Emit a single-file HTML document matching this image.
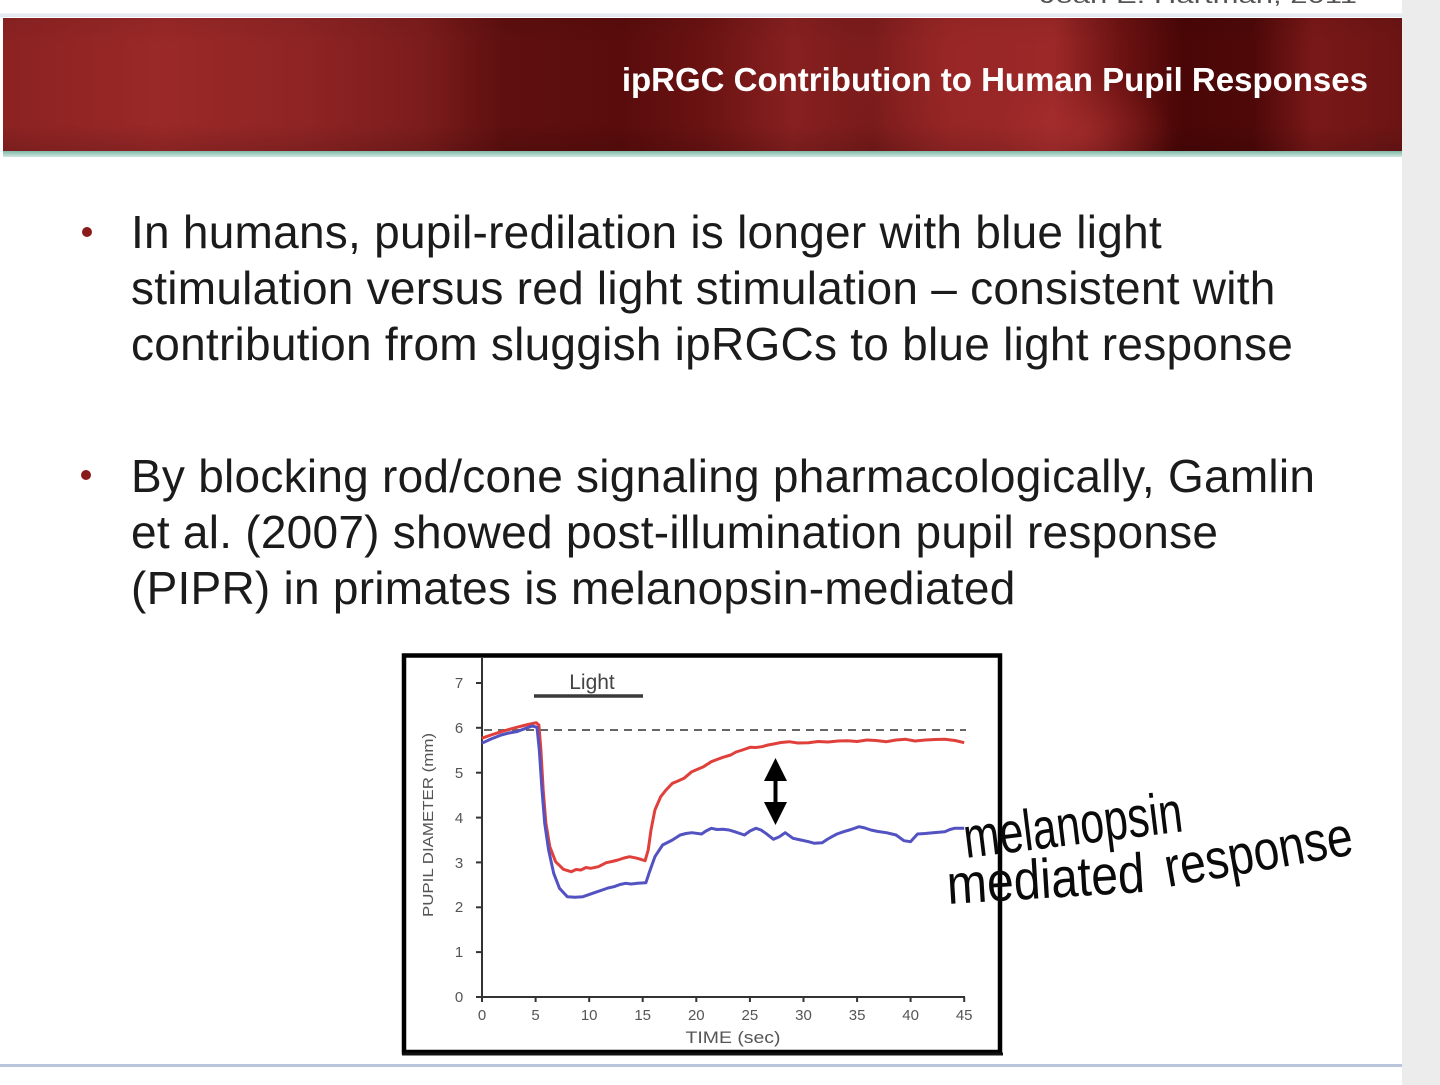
<!DOCTYPE html>
<html>
<head>
<meta charset="utf-8">
<style>
  html,body{margin:0;padding:0;}
  body{width:1440px;height:1085px;position:relative;overflow:hidden;background:#ffffff;font-family:"Liberation Sans",Arial,sans-serif;}
  .rightband{position:absolute;left:1402px;top:0;width:38px;height:1085px;background:#ececec;}
  .topline{position:absolute;left:0;top:13px;width:1402px;height:4px;background:linear-gradient(#eef1f7,#dfe4ee);}
  .header{position:absolute;left:3px;top:18px;width:1399px;height:133px;
    background:
      radial-gradient(ellipse 90px 60px at 1080px 115px, rgba(175,50,50,0.55), rgba(175,50,50,0) 100%),
      radial-gradient(ellipse 120px 140px at 960px 40px, rgba(160,40,40,0.5), rgba(160,40,40,0) 100%),
      linear-gradient(to bottom, rgba(0,0,0,0.05) 0%, rgba(0,0,0,0) 20%, rgba(0,0,0,0) 80%, rgba(0,0,0,0.12) 100%),
      linear-gradient(to right,#8c2222 0px,#9a2828 160px,#8f2424 300px,#7c1c1c 420px,#5f0f0f 500px,#5a0c0c 620px,#6a1212 700px,#882020 790px,#781a1a 870px,#932525 950px,#9c2828 1050px,#6c1212 1120px,#4a0606 1180px,#4e0808 1250px,#7a1818 1310px,#6c1414 1399px);}
  .teal{position:absolute;left:3px;top:151px;width:1399px;height:6px;background:linear-gradient(#7fb8a8,#cfe7df);}
  .title{position:absolute;right:72px;top:60px;font-weight:bold;font-size:33px;color:#ffffff;white-space:nowrap;line-height:40px;}
  .bl{position:absolute;left:131px;font-size:46px;line-height:56px;color:#1b1b1b;white-space:nowrap;letter-spacing:0.25px;}
  .dot{position:absolute;width:10px;height:10px;border-radius:50%;background:#8b1a1a;}
  .botline{position:absolute;left:0;top:1064px;width:1402px;height:3px;background:#b9c5da;}
</style>
</head>
<body>
<div class="rightband"></div>
<div class="topline"></div>
<div class="header"></div>
<div class="teal"></div>
<div class="title">ipRGC Contribution to Human Pupil Responses</div>

<div class="dot" style="left:82px;top:227px;"></div>
<div class="bl" style="top:204px;">In humans, pupil-redilation is longer with blue light<br>stimulation versus red light stimulation – consistent with<br>contribution from sluggish ipRGCs to blue light response</div>

<div class="dot" style="left:81px;top:470px;"></div>
<div class="bl" style="top:448px;">By blocking rod/cone signaling pharmacologically, Gamlin<br>et al. (2007) showed post-illumination pupil response<br>(PIPR) in primates is melanopsin-mediated</div>

<div class="botline"></div>

<svg width="1440" height="1085" viewBox="0 0 1440 1085" style="position:absolute;left:0;top:0;" xmlns="http://www.w3.org/2000/svg">
  <text x="1040" y="3" font-family="Liberation Sans, Arial, sans-serif" font-size="22" fill="#555" textLength="317" lengthAdjust="spacingAndGlyphs">Jean E. Hartman, 2011</text>

  <!-- chart box -->
  <rect x="404" y="655.5" width="596" height="396.5" fill="#ffffff" stroke="#000" stroke-width="4.5"/>
  <line x1="402" y1="1054" x2="1003" y2="1054" stroke="#111" stroke-width="3"/>

  <!-- axes -->
  <g stroke="#333" stroke-width="2" fill="none">
    <line x1="482" y1="658" x2="482" y2="997"/>
    <line x1="482" y1="997" x2="965" y2="997"/>
    <line x1="476" y1="997" x2="482" y2="997"/>
    <line x1="476" y1="952.1" x2="482" y2="952.1"/>
    <line x1="476" y1="907.3" x2="482" y2="907.3"/>
    <line x1="476" y1="862.4" x2="482" y2="862.4"/>
    <line x1="476" y1="817.6" x2="482" y2="817.6"/>
    <line x1="476" y1="772.7" x2="482" y2="772.7"/>
    <line x1="476" y1="727.8" x2="482" y2="727.8"/>
    <line x1="476" y1="683" x2="482" y2="683"/>
    <line x1="482" y1="997" x2="482" y2="1002"/>
    <line x1="535.6" y1="997" x2="535.6" y2="1002"/>
    <line x1="589.2" y1="997" x2="589.2" y2="1002"/>
    <line x1="642.7" y1="997" x2="642.7" y2="1002"/>
    <line x1="696.3" y1="997" x2="696.3" y2="1002"/>
    <line x1="749.9" y1="997" x2="749.9" y2="1002"/>
    <line x1="803.5" y1="997" x2="803.5" y2="1002"/>
    <line x1="857.1" y1="997" x2="857.1" y2="1002"/>
    <line x1="910.6" y1="997" x2="910.6" y2="1002"/>
    <line x1="964.2" y1="997" x2="964.2" y2="1002"/>
  </g>

  <g font-family="Liberation Sans, Arial, sans-serif" font-size="15" fill="#555" text-anchor="middle">
    <text x="459" y="1002">0</text>
    <text x="459" y="957">1</text>
    <text x="459" y="912">2</text>
    <text x="459" y="868">3</text>
    <text x="459" y="823">4</text>
    <text x="459" y="778">5</text>
    <text x="459" y="733">6</text>
    <text x="459" y="688">7</text>

    <text x="482" y="1020">0</text>
    <text x="535.6" y="1020">5</text>
    <text x="589.2" y="1020">10</text>
    <text x="642.7" y="1020">15</text>
    <text x="696.3" y="1020">20</text>
    <text x="749.9" y="1020">25</text>
    <text x="803.5" y="1020">30</text>
    <text x="857.1" y="1020">35</text>
    <text x="910.6" y="1020">40</text>
    <text x="964.2" y="1020">45</text>
  </g>

  <text x="733" y="1043" font-family="Liberation Sans, Arial, sans-serif" font-size="17" fill="#555" text-anchor="middle" textLength="95" lengthAdjust="spacingAndGlyphs">TIME (sec)</text>
  <text transform="translate(433,825) rotate(-90)" x="0" y="0" font-family="Liberation Sans, Arial, sans-serif" font-size="15" fill="#555" text-anchor="middle" textLength="184" lengthAdjust="spacingAndGlyphs">PUPIL DIAMETER (mm)</text>

  <text x="592" y="689" font-family="Liberation Sans, Arial, sans-serif" font-size="21" fill="#444" text-anchor="middle">Light</text>
  <line x1="534" y1="696" x2="643" y2="696" stroke="#3a3a3a" stroke-width="3.5"/>

  <line x1="484" y1="730" x2="966" y2="730" stroke="#666" stroke-width="2" stroke-dasharray="8,6"/>

  <polyline fill="none" stroke="#e0403c" stroke-width="3" stroke-linejoin="round" points="
481.7,738.3 491,735 501.2,731.7 509,729.5 516.7,727.3 526,725 536.2,722.7 538.9,725 540.9,750 543.2,790 545.9,823.3 549.8,846.7 555.6,861.7 563.4,869.3 571.2,871.7 576,869.5 580.9,870 586,867.5 590.7,868.3 598.4,866.7 606.2,862.7 612,861.5 617.9,860 624,858 629.6,856.7 637.4,858.3 645.1,860.7 648.2,850 651,830 654.9,810 660.7,796.7 666,790 672.4,783.3 678,781 684,778.3 691.8,771.7 697,769.5 703.5,766.7 711.3,761.7 717,759.5 722.96,757.3 730.7,755 736,752 742.4,750 750.2,747.3 756,747.5 761.9,746.7 768,745 773.5,744 781,742.5 789.1,741.7 798,743 808.6,742.7 818,741.5 828,742 838,741 847.5,740.7 857,741.5 866.9,740 876,740.5 886.4,741.7 896,740 905.8,739.3 915,741 925.3,740 935,739.5 944.7,739.3 955,740.5 964.2,742.7"/>

  <polyline fill="none" stroke="#5252c2" stroke-width="3" stroke-linejoin="round" points="
481.7,743.3 491,739 501.2,735 509,733 516.7,731.7 524,729 532.3,726 537,727.3 539.3,750 542,790 544.7,823.3 548.6,850 553.7,873.3 559.5,888.3 567.3,896.7 575.1,897.3 582.9,896.7 592.6,893.3 602.3,890 608,888 614,886.7 620,884.5 625.7,883.3 631,884 637.4,883.3 645.9,882.7 649,873.3 654.9,856.7 662.6,845 672.4,840 680.2,835 686,833.5 691.8,832.7 701.6,834 706,831 711.3,828.3 717,829.5 723,829.3 729,830 734.6,831.7 744.4,835 750,831 756,828.3 761,830 765.8,833.3 773.5,839.3 779.4,836.7 785.2,832.7 793,838.3 800.8,840 808.6,841.7 814.4,843.3 822.2,842.7 827,839.5 831.9,836.7 837,834 843.6,831.7 851,829.5 859.1,826.7 865,828 870.8,830 878,831.5 886.4,832.7 896.1,835 903.9,840.7 910.5,841.7 917.5,834 925,833.5 933,832.7 944.7,831.7 950,829.5 954.5,828.3 964.2,828.3"/>

  <line x1="775.5" y1="775" x2="775.5" y2="808" stroke="#000" stroke-width="4"/>
  <polygon points="775.5,758 787,781 764,781" fill="#000"/>
  <polygon points="775.5,825 787,802 764,802" fill="#000"/>

  <g font-family="Liberation Sans, Arial, sans-serif" fill="#0a0a0a">
    <text transform="translate(966,858) rotate(-7)" x="0" y="0" font-size="58" textLength="220" lengthAdjust="spacingAndGlyphs">melanopsin</text>
    <text transform="translate(948,904) rotate(-3.5)" x="0" y="0" font-size="56" textLength="198" lengthAdjust="spacingAndGlyphs">mediated</text>
    <text transform="translate(1168,887) rotate(-10)" x="0" y="0" font-size="56" textLength="190" lengthAdjust="spacingAndGlyphs">response</text>
  </g>
</svg>
</body>
</html>
